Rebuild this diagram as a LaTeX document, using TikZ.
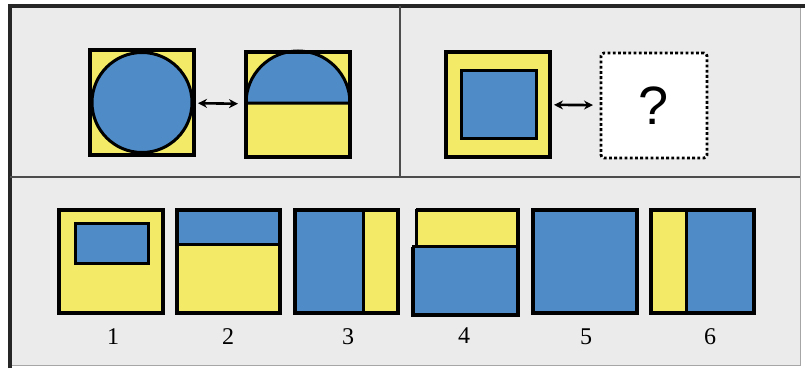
\documentclass[tikz,border=0pt]{standalone}
\usepackage{fontspec}
\setmainfont{Liberation Serif}
\newfontfamily\qfont{Liberation Sans}
\usetikzlibrary{arrows.meta}
\definecolor{yel}{RGB}{243,235,104}
\definecolor{blu}{RGB}{78,139,199}
\definecolor{bg}{RGB}{235,235,235}
\tikzset{
  sqbox/.style={rectangle, inner sep=0pt, outer sep=0pt, fill=yel, draw=none},
  bord/.style={draw=black, line width=3.6pt},
  part/.style={fill=blu, draw=black, line width=3pt},
  ypart/.style={fill=yel, draw=black, line width=3pt},
  dbl/.style={{Stealth[length=9pt,width=9pt]}-{Stealth[length=9pt,width=9pt]}, line width=2.6pt, shorten <=4pt, shorten >=8pt},
  lbl/.style={font=\fontsize{24}{26}\selectfont, inner sep=0pt}
}
\begin{document}
\begin{tikzpicture}[x=1pt,y=-1pt]
\useasboundingbox (0,0) rectangle (805,369);
\fill[white] (0,0) rectangle (805,369);
% frame
\fill[bg] (10,6) rectangle (800,365);
\draw[gray!70, line width=1pt] (800,6) -- (800,365) -- (10,365);
\draw[black!85, line width=3.5pt] (10,368) -- (10,6) -- (805,6);
\draw[black!70, line width=2.5pt] (10,177) -- (800,177);
\draw[black!70, line width=2.5pt] (400,6) -- (400,177);

% top-left pair
\node[sqbox, minimum width=104pt, minimum height=105pt] (a) at (142,102.5) {};
\draw[part] (a.center) circle (50pt);
\draw[bord] (a.north west) rectangle (a.south east);

\node[sqbox, minimum width=104pt, minimum height=105pt] (b) at (298,104.5) {};
\draw[part] (246,103) arc[start angle=180, end angle=0, radius=52pt] -- cycle;
\draw[bord] (b.north west) rectangle (b.south east);
\draw[dbl] (a) -- (b);

% top-right pair
\node[sqbox, minimum width=104pt, minimum height=105pt] (c) at (498,104.5) {};
\draw[part] (461,70) rectangle (536,138);
\draw[bord] (c.north west) rectangle (c.south east);

\node[rectangle, fill=white, draw=black, line width=2.8pt, dash pattern=on 2.8pt off 2.4pt, rounded corners=3pt, minimum width=106pt, minimum height=105pt, inner sep=0pt, outer sep=0pt] (q) at (654,105.5) {\qfont\fontsize{54}{54}\selectfont ?};
\draw[dbl] (c) -- (q);

% options
\node[sqbox, minimum width=104pt, minimum height=103pt] (o1) at (111,261.5) {};
\draw[part] (75,223) rectangle (148,263);
\draw[bord] (o1.north west) rectangle (o1.south east);

\node[sqbox, minimum width=103pt, minimum height=103pt] (o2) at (228.5,261.5) {};
\draw[part] (o2.north west) rectangle (280,244);
\draw[bord] (o2.north west) rectangle (o2.south east);

\node[sqbox, minimum width=103pt, minimum height=103pt] (o3) at (346.5,261.5) {};
\draw[part] (o3.north west) rectangle (363,313);
\draw[bord] (o3.north west) rectangle (o3.south east);

\node[sqbox, fill=none, minimum width=105pt, minimum height=105pt] (o4) at (465.5,262.5) {};
\draw[ypart] (416,210) rectangle (518,247);
\draw[part] (413,246.5) rectangle (518,315);
\draw[bord] (416,210) -- (518,210) -- (518,315) -- (413,315) -- (413,246.5);

\node[sqbox, fill=blu, minimum width=104pt, minimum height=103pt] (o5) at (585,261.5) {};
\draw[bord] (o5.north west) rectangle (o5.south east);

\node[sqbox, minimum width=103pt, minimum height=103pt] (o6) at (702.5,261.5) {};
\draw[part] (686,210) rectangle (754,312);
\draw[bord] (o6.north west) rectangle (o6.south east);

\node[lbl] (l1) at (113,337) {1};
\node[lbl] (l2) at (228,337) {2};
\node[lbl] (l3) at (348,337) {3};
\node[lbl] (l4) at (464,336) {4};
\node[lbl] (l5) at (586,337) {5};
\node[lbl] (l6) at (710,337) {6};
\end{tikzpicture}
\end{document}
